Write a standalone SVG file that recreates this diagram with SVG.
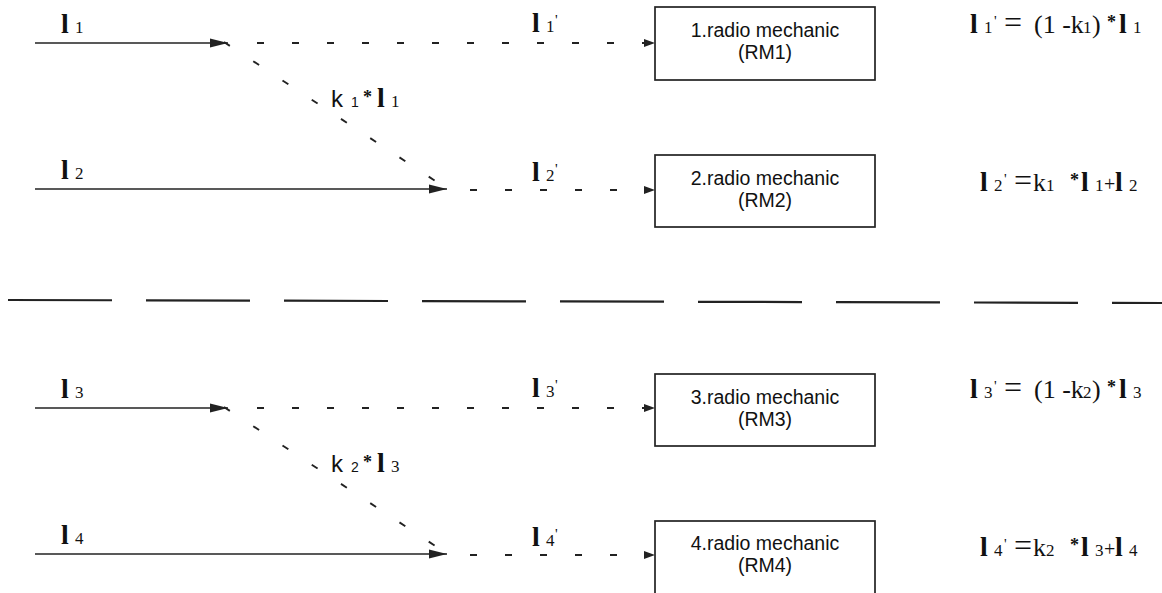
<svg xmlns="http://www.w3.org/2000/svg" width="1162" height="593" viewBox="0 0 1162 593">
<style>
.bg{fill:#fff}
.box{fill:#fff;stroke:#222;stroke-width:1.7}
.solid{stroke:#222;stroke-width:1.7;fill:none}
.dash{stroke:#222;stroke-width:1.9;fill:none;stroke-dasharray:7 28}
.sep{stroke:#222;stroke-width:2.2;fill:none;stroke-dasharray:104 34}
.bt{font-family:"Liberation Sans",Arial,sans-serif;font-size:19.5px;fill:#111;text-anchor:middle}
.s{font-family:"Liberation Serif","Times New Roman",serif;fill:#111;font-weight:bold}
.big{font-size:28px}
.mid{font-size:26px;font-weight:normal}
.sub{font-size:17px;font-weight:normal}
.pr{font-size:15px;font-weight:normal}
.ast{font-size:18px}
.k{font-family:"Liberation Sans",Arial,sans-serif;font-size:24px;fill:#111}
</style>
<defs>
<marker id="ah" markerUnits="userSpaceOnUse" markerWidth="19" markerHeight="11" refX="18" refY="5" orient="auto">
<path d="M0,0.5 L18,5 L0,9.5 z" fill="#222"/>
</marker>
<marker id="ahs" markerUnits="userSpaceOnUse" markerWidth="12" markerHeight="10" refX="11" refY="4" orient="auto">
<path d="M0,0 L11,4 L0,8 z" fill="#222"/>
</marker>
</defs>
<rect class="bg" x="0" y="0" width="1162" height="593"/>

<g id="connectors">
<line class="solid" x1="35" y1="43" x2="228" y2="43" marker-end="url(#ah)"/>
<line class="dash" x1="257" y1="43" x2="655" y2="43" marker-end="url(#ahs)"/>
<line class="dash" x1="224" y1="42" x2="440" y2="184"/>
<line class="solid" x1="35" y1="189" x2="447" y2="189" marker-end="url(#ah)"/>
<line class="dash" x1="470" y1="190" x2="655" y2="190" marker-end="url(#ahs)"/>

<line class="solid" x1="35" y1="408" x2="228" y2="408" marker-end="url(#ah)"/>
<line class="dash" x1="257" y1="408" x2="655" y2="408" marker-end="url(#ahs)"/>
<line class="dash" x1="224" y1="407" x2="440" y2="549"/>
<line class="solid" x1="35" y1="554" x2="447" y2="554" marker-end="url(#ah)"/>
<line class="dash" x1="470" y1="555" x2="655" y2="555" marker-end="url(#ahs)"/>

<line class="sep" x1="8" y1="300" x2="1162" y2="303"/>
</g>

<g id="box1">
<rect class="box" x="655" y="7" width="220" height="73"/>
<text class="bt" x="765" y="37">1.radio mechanic</text>
<text class="bt" x="765" y="59">(RM1)</text>
</g>
<g id="box2">
<rect class="box" x="655" y="155" width="220" height="72"/>
<text class="bt" x="765" y="185">2.radio mechanic</text>
<text class="bt" x="765" y="207">(RM2)</text>
</g>
<g id="box3">
<rect class="box" x="655" y="374" width="220" height="72"/>
<text class="bt" x="765" y="404">3.radio mechanic</text>
<text class="bt" x="765" y="426">(RM3)</text>
</g>
<g id="box4">
<rect class="box" x="655" y="521" width="220" height="80"/>
<text class="bt" x="765" y="550">4.radio mechanic</text>
<text class="bt" x="765" y="572">(RM4)</text>
</g>

<g id="labels">
<text class="s"><tspan class="big" x="61" y="33">l</tspan><tspan class="sub" x="75" y="33">1</tspan></text>
<text class="s"><tspan class="big" x="61" y="179">l</tspan><tspan class="sub" x="75" y="179">2</tspan></text>
<text class="s"><tspan class="big" x="61" y="398">l</tspan><tspan class="sub" x="75" y="398">3</tspan></text>
<text class="s"><tspan class="big" x="61" y="544">l</tspan><tspan class="sub" x="75" y="544">4</tspan></text>

<text><tspan class="k" x="331" y="107">k</tspan><tspan class="k" style="font-size:14px" x="351" y="107">1</tspan><tspan class="s ast" x="363" y="103">*</tspan><tspan class="s big" x="377" y="107">l</tspan><tspan class="s sub" x="391" y="107">1</tspan></text>
<text><tspan class="k" x="331" y="472">k</tspan><tspan class="k" style="font-size:14px" x="351" y="472">2</tspan><tspan class="s ast" x="363" y="468">*</tspan><tspan class="s big" x="377" y="472">l</tspan><tspan class="s sub" x="391" y="472">3</tspan></text>

<text class="s"><tspan class="big" x="532" y="32">l</tspan><tspan class="sub" x="546" y="32">1</tspan><tspan class="pr" x="555" y="25">'</tspan></text>
<text class="s"><tspan class="big" x="532" y="181">l</tspan><tspan class="sub" x="546" y="181">2</tspan><tspan class="pr" x="555" y="174">'</tspan></text>
<text class="s"><tspan class="big" x="532" y="397">l</tspan><tspan class="sub" x="546" y="397">3</tspan><tspan class="pr" x="555" y="390">'</tspan></text>
<text class="s"><tspan class="big" x="532" y="546">l</tspan><tspan class="sub" x="546" y="546">4</tspan><tspan class="pr" x="555" y="539">'</tspan></text>
</g>

<g id="formulas">
<text class="s"><tspan class="big" x="970" y="33">l</tspan><tspan class="sub" x="984" y="33">1</tspan><tspan class="pr" x="994" y="26">'</tspan><tspan style="font-size:32px;font-weight:normal" x="1004" y="33">=</tspan><tspan class="mid" x="1034" y="33">(1 -k</tspan><tspan class="sub" x="1083" y="33">1</tspan><tspan class="mid" x="1092" y="33">)</tspan><tspan class="ast" x="1107" y="28">*</tspan><tspan class="big" x="1119" y="33">l</tspan><tspan class="sub" x="1133" y="33">1</tspan></text>
<text class="s"><tspan class="big" x="980" y="191">l</tspan><tspan class="sub" x="994" y="191">2</tspan><tspan class="pr" x="1004" y="184">'</tspan><tspan style="font-size:32px;font-weight:normal" x="1014" y="191">=</tspan><tspan class="mid" x="1033" y="191">k</tspan><tspan class="sub" x="1046" y="191">1</tspan><tspan class="ast" x="1070" y="186">*</tspan><tspan class="big" x="1081" y="191">l</tspan><tspan class="sub" x="1095" y="191">1</tspan><tspan class="mid" style="font-size:20px" x="1104" y="191">+</tspan><tspan class="big" x="1115" y="191">l</tspan><tspan class="sub" x="1129" y="191">2</tspan></text>
<text class="s"><tspan class="big" x="970" y="398">l</tspan><tspan class="sub" x="984" y="398">3</tspan><tspan class="pr" x="994" y="391">'</tspan><tspan style="font-size:32px;font-weight:normal" x="1004" y="398">=</tspan><tspan class="mid" x="1034" y="398">(1 -k</tspan><tspan class="sub" x="1083" y="398">2</tspan><tspan class="mid" x="1092" y="398">)</tspan><tspan class="ast" x="1107" y="393">*</tspan><tspan class="big" x="1119" y="398">l</tspan><tspan class="sub" x="1133" y="398">3</tspan></text>
<text class="s"><tspan class="big" x="980" y="556">l</tspan><tspan class="sub" x="994" y="556">4</tspan><tspan class="pr" x="1004" y="549">'</tspan><tspan style="font-size:32px;font-weight:normal" x="1014" y="556">=</tspan><tspan class="mid" x="1033" y="556">k</tspan><tspan class="sub" x="1046" y="556">2</tspan><tspan class="ast" x="1070" y="551">*</tspan><tspan class="big" x="1081" y="556">l</tspan><tspan class="sub" x="1095" y="556">3</tspan><tspan class="mid" style="font-size:20px" x="1104" y="556">+</tspan><tspan class="big" x="1115" y="556">l</tspan><tspan class="sub" x="1129" y="556">4</tspan></text>
</g>
</svg>
